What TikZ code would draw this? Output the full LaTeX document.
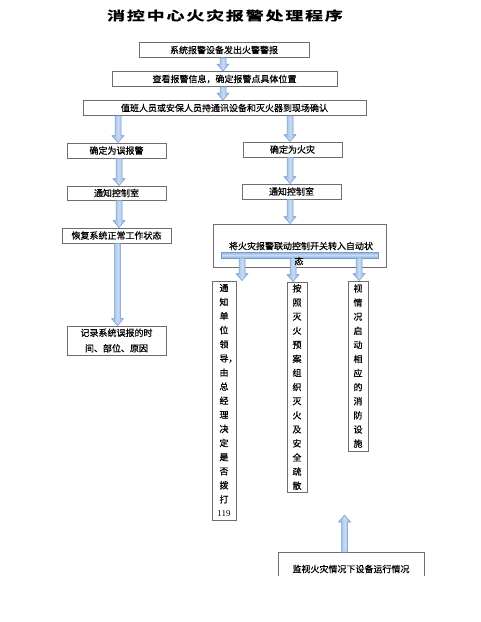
\documentclass[tikz,border=0pt]{standalone}
\usepackage{fontspec}
\usepackage{graphicx}
\newfontfamily\cjk[FakeBold=0.6]{Noto Sans CJK SC}
\newfontfamily\cjktitle[FakeBold=0.8]{Noto Sans CJK SC Bold}
\newfontfamily\serifdig{Liberation Serif}
\usetikzlibrary{calc}
\definecolor{boxc}{RGB}{110,110,110}
\definecolor{arredge}{RGB}{115,155,208}
\definecolor{arrside}{RGB}{140,178,225}
\definecolor{arrmid}{RGB}{200,219,242}
\newcommand\blkarr[2]{%
  \path[blk] let \p1=(#1), \p2=(#2), \n1={sign(\y2-\y1)*7} in
    (\x1-3pt,\y1) -- (\x1-3pt,{\y2-\n1*1pt}) -- (\x1-6pt,{\y2-\n1*1pt}) -- (\x1,\y2)
    -- (\x1+6pt,{\y2-\n1*1pt}) -- (\x1+3pt,{\y2-\n1*1pt}) -- (\x1+3pt,\y1) -- cycle;}
\tikzset{
  box/.style={draw=boxc, line width=0.8pt, inner sep=0pt, align=center,
    font=\cjk\fontsize{9}{15.5}\selectfont},
  vbox/.style={draw=boxc, line width=0.8pt, inner sep=0pt, align=center,
    font=\cjk\fontsize{9}{14.1}\selectfont},
  blk/.style={draw=arredge, line width=0.5pt, left color=arrside, right color=arrside, middle color=arrmid},
  bar/.style={draw=arredge, line width=0.5pt, top color=arrside, bottom color=arrside, middle color=arrmid},
  lbl/.style={inner sep=0pt, font=\cjk\fontsize{9}{15}\selectfont}
}
\begin{document}
\begin{tikzpicture}[x=1pt,y=-1pt]
\useasboundingbox (0,0) rectangle (480,622);
\fill[white] (0,0) rectangle (480,622);
% title
\node[inner sep=0pt] (title) at (225,15.5) {\scalebox{1}[0.7]{\cjktitle\fontsize{18}{20}\selectfont 消\hspace{1.8pt}控\hspace{1.8pt}中\hspace{1.8pt}心\hspace{1.8pt}火\hspace{1.8pt}灾\hspace{1.8pt}报\hspace{1.8pt}警\hspace{1.8pt}处\hspace{1.8pt}理\hspace{1.8pt}程\hspace{1.8pt}序}};
% boxes
\node[box, minimum width=170pt, minimum height=15pt] (b1) at (224,50) {系统报警设备发出火警警报};
\node[box, minimum width=225pt, minimum height=15pt] (b2) at (224.5,79) {查看报警信息，确定报警点具体位置};
\node[box, minimum width=283pt, minimum height=15pt] (b3) at (224.5,108) {值班人员或安保人员持通讯设备和灭火器到现场确认};
\node[box, minimum width=99pt, minimum height=15pt] (b4) at (116.5,150.5) {确定为误报警};
\node[box, minimum width=99pt, minimum height=15pt] (b5) at (292.5,149.5) {确定为火灾};
\node[box, minimum width=99pt, minimum height=14pt] (b6) at (116.5,193) {通知控制室};
\node[box, minimum width=99pt, minimum height=15pt] (b7) at (291.5,191.5) {通知控制室};
\node[box, minimum width=109pt, minimum height=15pt] (b8) at (116.5,235.5) {恢复系统正常工作状态};
\node[box, minimum width=173pt, minimum height=43pt] (b9) at (299.5,245.5) {};
\node[box, minimum width=99pt, minimum height=29pt] (b10) at (116.5,340.5) {记录系统误报的时\\间、部位、原因};
\node[vbox, minimum width=24pt, minimum height=239pt] (b11) at (224,400.5)
  {通\\知\\单\\位\\领\\导\rlap{，}\\由\\总\\经\\理\\决\\定\\是\\否\\拨\\打\\{\serifdig 119}};
\node[vbox, minimum width=20pt, minimum height=210pt] (b12) at (297,387)
  {按\\照\\灭\\火\\预\\案\\组\\织\\灭\\火\\及\\安\\全\\疏\\散};
\node[vbox, minimum width=20pt, minimum height=170pt] (b13) at (358,366)
  {视\\情\\况\\启\\动\\相\\应\\的\\消\\防\\设\\施};
% bottom open box
\coordinate (b14tl) at (278,552);
\coordinate (b14tr) at (424,552);
\draw[boxc, line width=0.8pt] (278,576) -- (b14tl) -- (b14tr) -- (424,576);
\node[lbl] (b14) at (351,569) {监视火灾情况下设备运行情况};
\coordinate (upend) at (344,515);
% block arrows
\blkarr{$(b1.south)+(-1,0)$}{$(b1.south |- b2.north)+(-1,0)$}
\blkarr{$(b2.south)+(-1.5,0)$}{$(b2.south |- b3.north)+(-1.5,0)$}
\blkarr{$(b4.north |- b3.south)+(1.5,0)$}{$(b4.north)+(1.5,0)$}
\blkarr{$(b5.north |- b3.south)+(-2.5,0)$}{$(b5.north)+(-2.5,0)$}
\blkarr{$(b4.south)+(2.5,0)$}{$(b6.north)+(2.5,0)$}
\blkarr{$(b5.south)+(-2.5,0)$}{$(b7.north)+(-1.5,0)$}
\blkarr{$(b6.south)+(2.5,0)$}{$(b8.north)+(2.5,0)$}
\blkarr{$(b7.south)+(-1.5,0)$}{$(b7.south |- b9.north)+(-1.5,0)$}
\blkarr{$(b8.south)+(1,0)$}{$(b10.north)+(1,0)$}
% bar inside big box and three arrows
\path[bar] (221,252) rectangle (378,258);
\coordinate (bar) at (299.5,258);
\blkarr{$(bar -| 242,0)$}{$(b11.north -| 242,0)$}
\blkarr{$(bar -| 293,0)$}{$(b12.north -| 293,0)$}
\blkarr{$(bar -| 359,0)$}{$(b13.north -| 359,0)$}
\blkarr{$(b14tl -| 344.5,0)$}{upend}
% big box text over the bar
\node[lbl] (b9t1) at (301,246) {将火灾报警联动控制开关转入自动状};
\node[lbl] (b9t2) at (299,261) {态};
\end{tikzpicture}
\end{document}
